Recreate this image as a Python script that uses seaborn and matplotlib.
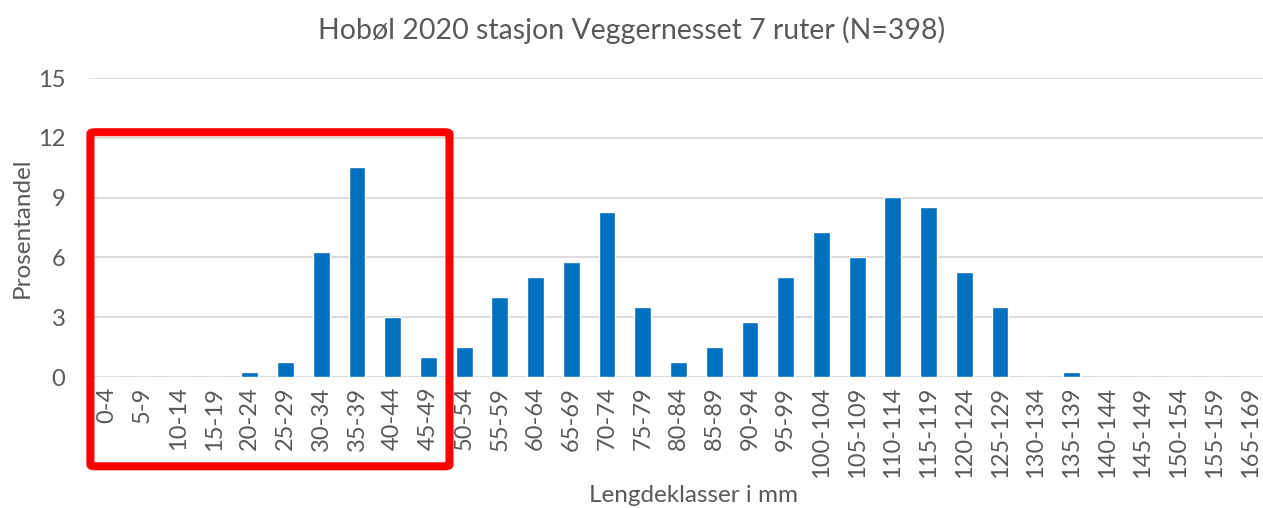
import matplotlib
matplotlib.use("Agg")
import matplotlib.pyplot as plt
import seaborn as sns
import pandas as pd
from matplotlib.patches import FancyBboxPatch

categories = ["0-4", "5-9", "10-14", "15-19", "20-24", "25-29", "30-34", "35-39",
              "40-44", "45-49", "50-54", "55-59", "60-64", "65-69", "70-74", "75-79",
              "80-84", "85-89", "90-94", "95-99", "100-104", "105-109", "110-114",
              "115-119", "120-124", "125-129", "130-134", "135-139", "140-144",
              "145-149", "150-154", "155-159", "165-169"]
percent = [0, 0, 0, 0, 0.25, 0.75, 6.28, 10.55, 3.02, 1.01, 1.51, 4.02, 5.03, 5.78,
           8.29, 3.52, 0.75, 1.51, 2.76, 5.03, 7.29, 6.03, 9.05, 8.54, 5.28, 3.52,
           0, 0.25, 0, 0, 0, 0, 0]
yticks = [0, 3, 6, 9, 12, 15]
title = "Hobøl 2020 stasjon Veggernesset 7 ruter (N=398)"

df = pd.DataFrame({"klasse": categories, "prosent": percent})

sns.set_theme(style="white")
plt.rcParams["font.family"] = ["Lato", "DejaVu Sans"]
txt = "#595959"

fig = plt.figure(figsize=(12.63, 5.08), dpi=100)
ax = fig.add_axes([89 / 1263, (508 - 377) / 508, (1268 - 89) / 1263, (377 - 78) / 508])

sns.barplot(data=df, x="klasse", y="prosent", order=categories, color="#0070C0",
            width=0.47, saturation=1, ax=ax, zorder=3)

ax.set_ylim(0, 15)
ax.set_xlim(-0.5, len(categories) - 0.5)
ax.set_yticks(yticks)
ax.yaxis.grid(True, color="#D9D9D9", linewidth=1.3, zorder=0)
ax.set_axisbelow(True)
for s in ax.spines.values():
    s.set_visible(False)
ax.tick_params(axis="x", labelrotation=90, labelsize=17, colors=txt, length=0, pad=7)
ax.tick_params(axis="y", labelsize=17, colors=txt, length=0, pad=17)
ax.set_xlabel("")
fig.text(693 / 1263, 1 - 502 / 508, "Lengdeklasser i mm", ha="center", va="baseline",
         fontsize=17.5, color=txt)
ax.set_ylabel("Prosentandel", fontsize=17.5, color=txt, labelpad=4)
fig.text(0.5, 1 - 30 / 508, title, ha="center", va="center", fontsize=20.5, color=txt)

rect = FancyBboxPatch((-0.46, -4.48), 10.05, 16.76,
                      boxstyle="round,pad=0,rounding_size=0.15",
                      fill=False, edgecolor="#FF0000", linewidth=5.8,
                      clip_on=False, zorder=5, mutation_aspect=0.56)
ax.add_patch(rect)

fig.savefig("out.png", dpi=100)
